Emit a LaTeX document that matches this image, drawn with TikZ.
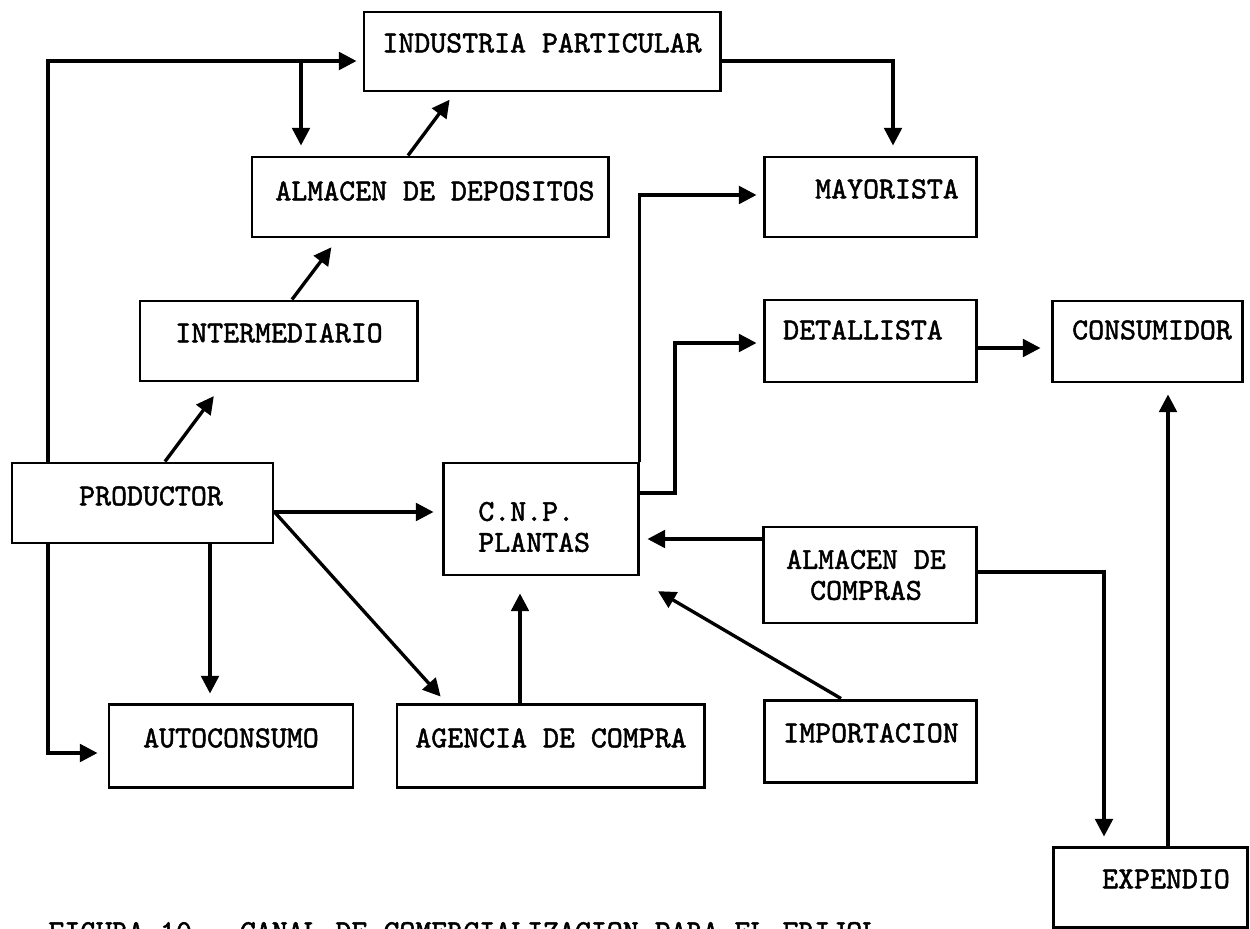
\documentclass[tikz,border=0pt]{standalone}
\usepackage{fontspec}
\newfontfamily\typewriter[FakeBold=1.6]{lmmono10-regular.otf}
\usetikzlibrary{arrows.meta,fit}
\begin{document}
\begin{tikzpicture}[x=0.02cm,y=-0.02cm,
  box/.style={draw, line width=1.7pt, inner sep=0pt},
  lbl/.style={font=\typewriter\fontsize{17.3}{17.6}\selectfont, inner sep=0pt},
  arr/.style={line width=1.9pt, -{Triangle[length=10pt,width=10pt]}}]
\useasboundingbox (0,0) rectangle (1250,929);
\fill[white] (0,0) rectangle (1250,929);

% boxes
\node[box, fit={(364,12) (720,91)}]   (ind)  {};
\node[box, fit={(252,157) (608,237)}] (alm)  {};
\node[box, fit={(764,157) (976,237)}] (may)  {};
\node[box, fit={(140,301) (417,381)}] (int)  {};
\node[box, fit={(764,300) (976,382)}] (det)  {};
\node[box, fit={(1052,301) (1242,382)}] (con) {};
\node[box, fit={(12,463) (273,543)}]  (prod) {};
\node[box, fit={(443,463) (638,575)}] (cnp)  {};
\node[box, fit={(763,527) (976,623)}] (acm)  {};
\node[box, fit={(109,704) (353,787)}] (aut)  {};
\node[box, fit={(397,704) (704,787)}] (agc)  {};
\node[box, fit={(764,700) (976,782)}] (imp)  {};
\node[box, fit={(1053,847) (1247,927)}] (exp) {};

% labels
\node[lbl] (ind-t)  at (542,43)  {INDUSTRIA PARTICULAR};
\node[lbl] (alm-t)  at (435,191) {ALMACEN DE DEPOSITOS};
\node[lbl] (may-t)  at (887,189) {MAYORISTA};
\node[lbl] (int-t)  at (279,333) {INTERMEDIARIO};
\node[lbl] (det-t)  at (863,330) {DETALLISTA};
\node[lbl] (con-t)  at (1152,330) {CONSUMIDOR};
\node[lbl] (prod-t) at (151,496) {PRODUCTOR};
\node[lbl, align=left, anchor=west] (cnp-t) at (478,527) {C.N.P.\\PLANTAS};
\node[lbl, align=center] (acm-t) at (866,575) {ALMACEN DE\\COMPRAS};
\node[lbl] (aut-t)  at (231,738) {AUTOCONSUMO};
\node[lbl] (agc-t)  at (551,738) {AGENCIA DE COMPRA};
\node[lbl] (imp-t)  at (871,733) {IMPORTACION};
\node[lbl] (exp-t)  at (1166,879) {EXPENDIO};
\node[lbl, anchor=base west] (cap) at (48,941)
  {FIGURA 10.\ \ CANAL DE COMERCIALIZACION PARA EL FRIJOL};

% connectors
\coordinate (j1) at (301,61);
\coordinate (j2) at (675,493);
\draw[arr, shorten >=0.12cm] (prod.north -| 48,0) |- (ind.west |- 0,61);
\draw[arr, shorten >=0.2cm]  (j1) -- (alm.north -| j1);
\draw[arr, shorten >=0.18cm] (alm.north -| 408,0) -- (ind.south -| 455,0);
\draw[arr, shorten >=0.2cm]  (ind.east |- 0,61) -| (may.north -| 893,0);
\draw[arr, shorten >=0.22cm] (int.north -| 292,0) -- (alm.south -| 338,0);
\draw[arr, shorten >=0.34cm] (prod.north -| 165,0) -- (int.south -| 224,0);
\draw[arr, shorten >=0.16cm] (prod.east |- 0,512) -- (cnp.west |- 0,512);
\draw[arr, shorten >=0.16cm] (prod.east |- 0,512) -- (agc.north -| 446,0);
\draw[arr, shorten >=0.18cm] (prod.south -| 210,0) -- (aut.north -| 210,0);
\draw[arr, shorten >=0.2cm]  (prod.south -| 48,0) |- (aut.west |- 0,753);
\draw[arr, shorten >=0.34cm] (agc.north -| 520,0) -- (cnp.south -| 520,0);
\draw[arr, shorten >=0.58cm] (imp.north -| 841,0) -- (cnp.south -| 633,0);
\draw[arr, shorten >=0.16cm] (acm.west |- 0,539) -- (cnp.east |- 0,539);
\draw[arr, shorten >=0.18cm] (acm.east |- 0,572) -| (exp.north -| 1104,0);
\draw[arr, shorten >=0.22cm] (exp.north -| 1168,0) -- (con.south -| 1168,0);
\draw[arr, shorten >=0.2cm]  (det.east |- 0,348) -- (con.west |- 0,348);
\draw[arr, shorten >=0.12cm] (cnp.east |- j2) -- (j2) |- (det.west |- 0,343);
\draw[arr, shorten >=0.12cm] (cnp.north east) |- (may.west |- 0,195);
\end{tikzpicture}
\end{document}
